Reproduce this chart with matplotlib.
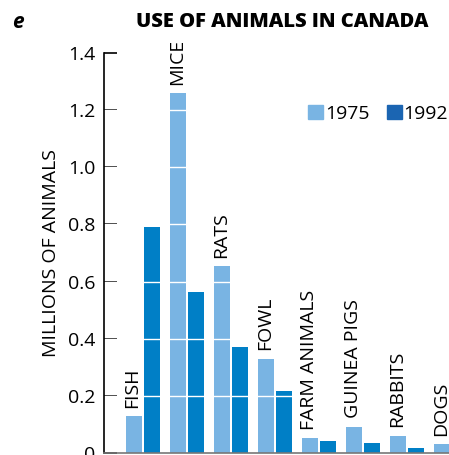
import numpy as np
import matplotlib.pyplot as plt
from matplotlib.patches import Patch

plt.rcParams['font.family'] = ['Open Sans', 'DejaVu Sans']

animals = ['FISH', 'MICE', 'RATS', 'FOWL', 'FARM ANIMALS', 'GUINEA PIGS', 'RABBITS', 'DOGS']
# millions of animals
y1975 = [0.13, 1.26, 0.655, 0.33, 0.053, 0.092, 0.061, 0.03]
y1992 = [0.79, 0.565, 0.37, 0.217, 0.042, 0.035, 0.019, np.nan]  # dogs 1992 cut off in the source
yticks = [0, 0.2, 0.4, 0.6, 0.8, 1.0, 1.2, 1.4]

light = '#79b4e3'
dark = '#007fc6'
dark_legend = '#1b65b2'

fig = plt.figure(figsize=(4.49, 4.55), dpi=100)
ax = fig.add_axes([104 / 449, 2 / 455, 345 / 449, 400 / 455])

x = np.arange(len(animals))
w = 16 / 44
off = 9 / 44
ax.bar(x - off, y1975, width=w, color=light, zorder=1)
ax.bar(x + off, y1992, width=w, color=dark, zorder=1)

# white grid lines across the bars
for t in yticks[1:-1]:
    ax.axhline(t, color='white', lw=1, zorder=2)

for xi, v, name in zip(x, y1975, animals):
    ax.annotate(name, (xi - off, v), xytext=(-1, 6), textcoords='offset points',
                rotation=90, ha='center', va='bottom', fontsize=14)

ax.set_xlim(-0.886, 6.95)
ax.set_ylim(0, 1.4)
ax.set_yticks(yticks)
ax.set_yticklabels(['0', '0.2', '0.4', '0.6', '0.8', '1.0', '1.2', '1.4'])
ax.tick_params(axis='y', direction='in', length=9, width=1.2, labelsize=14, pad=6)
ax.tick_params(axis='x', bottom=False, labelbottom=False)
ax.spines['top'].set_visible(False)
ax.spines['right'].set_visible(False)
ax.spines['left'].set_linewidth(1.2)
ax.spines['bottom'].set_color('#777777')
ax.spines['bottom'].set_linewidth(1.2)
ax.set_ylabel('MILLIONS OF ANIMALS', fontsize=14, labelpad=6)

handles = [Patch(color=light, label='1975'), Patch(color=dark_legend, label='1992')]
ax.legend(handles=handles, loc='upper right', bbox_to_anchor=(1.02, 0.89), ncol=2,
          frameon=False, fontsize=14, handlelength=0.75, handleheight=0.75,
          handletextpad=0.1, columnspacing=0.9, borderaxespad=0)

fig.text(282 / 449, 1 - 22 / 455, 'USE OF ANIMALS IN CANADA', ha='center', va='center',
         fontsize=14.5, fontweight='heavy')
fig.text(12 / 449, 1 - 22 / 455, 'e', ha='left', va='center', fontsize=15,
         fontweight='bold', style='italic')

fig.savefig('out.png', dpi=100)
